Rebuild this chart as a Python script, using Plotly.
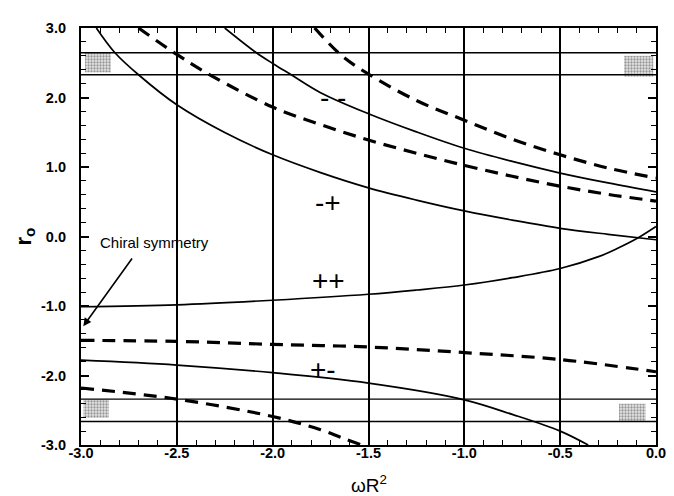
import plotly.graph_objects as go

# ---- data ----
# upper solid curve ("-+" boundary)
xa = [-2.92, -2.823, -2.70, -2.5, -2.25, -2.0, -1.75, -1.5, -1.25, -1.0, -0.75, -0.5, -0.25, 0.0]
ra = [3.0, 2.644, 2.327, 1.895, 1.495, 1.175, 0.919, 0.70, 0.524, 0.368, 0.236, 0.118, 0.031, -0.047]
# upper solid curve ("- -" boundary)
xb = [-2.25, -2.085, -2.0, -1.903, -1.75, -1.5, -1.25, -1.0, -0.75, -0.5, -0.25, 0.0]
rb = [3.0, 2.644, 2.49, 2.327, 2.07, 1.767, 1.506, 1.269, 1.08, 0.913, 0.771, 0.643]
# upper dashed curve 1
xc = [-2.70, -2.5, -2.328, -2.0, -1.75, -1.5, -1.25, -1.0, -0.75, -0.5, -0.25, 0.0]
rc = [3.0, 2.62, 2.327, 1.862, 1.61, 1.388, 1.198, 1.023, 0.866, 0.724, 0.606, 0.51]
# upper dashed curve 2
xd = [-1.781, -1.639, -1.5, -1.25, -1.0, -0.75, -0.5, -0.25, 0.0]
rd = [3.0, 2.60, 2.336, 1.957, 1.673, 1.40, 1.175, 0.985, 0.842]
# rising solid curve ("++")
xe = [-3.0, -2.5, -2.0, -1.5, -1.25, -1.0, -0.75, -0.5, -0.3, -0.2, -0.1, 0.0]
re = [-1.011, -0.983, -0.917, -0.831, -0.77, -0.698, -0.593, -0.461, -0.29, -0.17, -0.03, 0.144]
# lower dashed curve 1
xf = [-3.0, -2.5, -2.0, -1.5, -1.0, -0.5, 0.0]
rf = [-1.495, -1.509, -1.552, -1.59, -1.67, -1.77, -1.946]
# lower solid curve ("+-")
xg = [-3.0, -2.5, -2.0, -1.5, -1.0, -0.75, -0.5, -0.354]
rg = [-1.78, -1.85, -1.96, -2.11, -2.35, -2.56, -2.80, -3.0]
# lower dashed curve 2
xh = [-3.0, -2.5, -2.0, -1.75, -1.639, -1.535]
rh = [-2.18, -2.34, -2.59, -2.78, -2.895, -3.0]

# horizontal reference lines
h_levels = [2.644, 2.327, -2.339, -2.662]
x_range = [-3.0, 0.0]

# stippled boxes: (x0, x1, r0, r1)
boxes = [
    (-2.979, -2.844, 2.36, 2.644),
    (-0.167, -0.014, 2.30, 2.60),
    (-2.988, -2.854, -2.61, -2.346),
    (-0.193, -0.054, -2.666, -2.405),
]

region_labels = ["- -", "-+", "++", "+-"]
region_x = [-1.686, -1.709, -1.709, -1.738]
region_r = [2.0, 0.487, -0.638, -1.91]

x_ticks = [-3.0, -2.5, -2.0, -1.5, -1.0, -0.5, 0.0]
x_tick_text = ["-3.0", "-2.5", "-2.0", "-1.5", "-1.0", "-0.5", "0.0"]
y_ticks = [3.0, 2.0, 1.0, 0.0, -1.0, -2.0, -3.0]
y_tick_text = ["3.0", "2.0", "1.0", "0.0", "-1.0", "-2.0", "-3.0"]

fig = go.Figure()

# boxes
for (x0, x1, r0, r1) in boxes:
    fig.add_trace(go.Scatter(
        x=[x0, x1, x1, x0, x0], y=[r0, r0, r1, r1, r0], mode="lines",
        line=dict(width=0), fill="toself", fillcolor="white",
        fillpattern=dict(shape=".", fgcolor="#444", bgcolor="#e6e6e6", size=3, solidity=0.45),
        showlegend=False, hoverinfo="skip"))

# horizontal lines
for h in h_levels:
    fig.add_trace(go.Scatter(x=x_range, y=[h, h], mode="lines",
                             line=dict(color="black", width=1.3), showlegend=False))

solid = dict(color="black", width=1.7, shape="spline", smoothing=1.0)
dashed = dict(color="black", width=3.2, dash="13px,8px", shape="spline", smoothing=1.0)
for xs, ys, st in [(xa, ra, solid), (xb, rb, solid), (xc, rc, dashed), (xd, rd, dashed),
                   (xe, re, solid), (xf, rf, dashed), (xg, rg, solid), (xh, rh, dashed)]:
    fig.add_trace(go.Scatter(x=xs, y=ys, mode="lines", line=st, showlegend=False))

for t, x, y in zip(region_labels, region_x, region_r):
    fig.add_annotation(x=x, y=y, text=t, showarrow=False,
                       font=dict(family="Liberation Sans", size=28, color="black"))

fig.add_annotation(x=-2.91, y=-0.08, text="Chiral symmetry", showarrow=False, xanchor="left",
                   font=dict(family="Liberation Sans", size=15, color="black"))
fig.add_annotation(x=-2.988, y=-1.29, ax=-2.728, ay=-0.296, axref="x", ayref="y",
                   xref="x", yref="y", text="", showarrow=True, arrowhead=2,
                   arrowsize=1, arrowwidth=1.6, arrowcolor="black")

fig.add_annotation(xref="paper", yref="paper", x=0.5, y=-0.128, text="ωR<sup>2</sup>",
                   showarrow=False, yanchor="bottom",
                   font=dict(family="Liberation Sans", size=19, color="black"))
fig.add_annotation(xref="paper", yref="paper", x=-0.099, y=0.5, text="r<sub>o</sub>",
                   showarrow=False, textangle=-90, xanchor="center", yanchor="middle",
                   font=dict(family="Liberation Sans", size=22, color="black", weight="bold"))

tickfont = dict(family="Liberation Sans", size=14.5, color="black", weight="bold")
fig.update_xaxes(range=x_range, tickvals=x_ticks, ticktext=x_tick_text, ticks="inside",
                 ticklen=8, tickwidth=1.5, tickcolor="black",
                 minor=dict(dtick=0.1, ticks="inside", ticklen=5, tickcolor="black", tickwidth=1.3),
                 showline=True, linecolor="black", linewidth=2.2, mirror="ticks",
                 showgrid=True, gridcolor="black", gridwidth=1.6, zeroline=False,
                 tickfont=tickfont, ticklabelstandoff=-7)
fig.update_yaxes(range=[-3.0, 3.0], tickvals=y_ticks, ticktext=y_tick_text, ticks="inside",
                 ticklen=8, tickwidth=1.5, tickcolor="black",
                 minor=dict(dtick=0.2, ticks="inside", ticklen=5, tickcolor="black", tickwidth=1.3),
                 showline=True, linecolor="black", linewidth=2.2, mirror="ticks",
                 showgrid=False, zeroline=False, tickfont=tickfont, ticklabelstandoff=10)

fig.update_layout(width=674, height=496, margin=dict(l=73, r=26, t=15, b=59),
                  plot_bgcolor="white", paper_bgcolor="white", showlegend=False)

fig.write_html("out.html")
